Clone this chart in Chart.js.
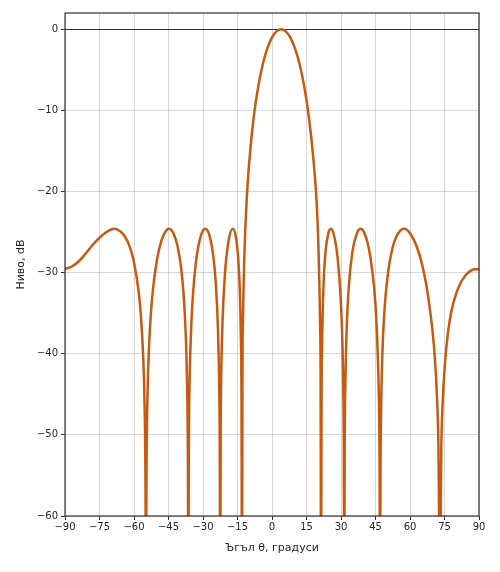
<!DOCTYPE html>
<html>
<head>
<meta charset="utf-8">
<script src="https://cdn.jsdelivr.net/npm/chart.js@4"></script>
<style>
html,body{margin:0;padding:0;background:#ffffff;}
canvas{display:block;}
</style>
</head>
<body>
<canvas id="c" width="500" height="572"></canvas>
<script>
// Angle θ (degrees) and level (dB)
const angles = [
  -90,-87,-84,-81,-78,-75,-72,-68.6,-66,-64.5,-63,-61.5,-60,-58,-57,-56,-55.5,-55.0,-54.8,-54.6,-54,-53.5,-53,-52,-50,-48,-46,-44.8,-43,-41,-39.5,-38.5,-37.5,-37,-36.57,-36.37,-36.17,-35.8,-35.3,-34.5,-33,-31,-29,-27,-25.5,-24.5,-23.5,-23,-22.73,-22.53,-22.33,-22,-21.5,-20.5,-19,-17.1,-15.5,-14.5,-14,-13.5,-13.25,-13.05,-12.85,-12.6,-12,-11,-10,-8,-6,-4,-2,0,2,4,6,8,10,12,14,16,18,19.5,20.3,20.9,21.13,21.33,21.53,21.8,22.4,23.3,24.5,25.6,27,28.5,29.8,30.5,30.9,31.21,31.41,31.61,31.9,32.4,33.3,35,37,38.5,40,42,43.5,45,46,46.5,46.77,46.97,47.17,47.5,48,49,50.5,52,54,57.4,60,63,65,67,69,70.5,71.7,72.4,73.0,73.6,74.2,75.2,76.6,78,80,82,84,86,88,90
];
const levels = [
  -29.55,-29.25,-28.6,-27.65,-26.6,-25.7,-25.0,-24.6,-24.9,-25.33,-26.05,-27.1,-28.73,-32.31,-35.32,-40.39,-45.0,-55.8,-70,-55.8,-43.62,-39.39,-36.57,-32.76,-28.38,-26.0,-24.8,-24.6,-25.07,-26.84,-29.44,-32.42,-37.65,-42.8,-52.8,-70,-52.2,-43.06,-38.04,-33.25,-28.52,-25.53,-24.6,-25.63,-28.04,-31.07,-36.91,-43.22,-50.6,-70,-50.0,-41.57,-35.93,-30.29,-26.28,-24.6,-25.97,-29.05,-32.16,-38.54,-45.6,-70,-42.5,-35.41,-27.75,-21.0,-16.71,-10.96,-7.08,-4.31,-2.34,-1.01,-0.24,0,-0.26,-1.04,-2.37,-4.32,-7.02,-10.76,-16.0,-21.8,-28.0,-36.0,-42.7,-70,-46.0,-38.6,-31.6,-27.4,-25.16,-24.6,-25.45,-28.09,-32.81,-37.63,-42.55,-50.7,-70,-51.3,-43.56,-37.42,-32.06,-27.35,-25.1,-24.6,-25.03,-26.87,-29.56,-34.01,-40.29,-45.99,-53.4,-70,-54.3,-45.8,-39.86,-34.21,-29.89,-27.45,-25.62,-24.6,-25.14,-26.84,-28.71,-31.37,-35.27,-39.4,-45.1,-52.1,-70,-51.9,-46.1,-41.2,-37.2,-34.76,-32.65,-31.28,-30.38,-29.85,-29.6,-29.6
];
const xTicks = [-90,-75,-60,-45,-30,-15,0,15,30,45,60,75,90];
const yTicks = [-60,-50,-40,-30,-20,-10,0];
const xTitle = 'Ъгъл θ, градуси';
const yTitle = 'Ниво, dB';

const fmt = v => (v < 0 ? '\u2212' + Math.abs(v) : String(v));
const points = angles.map((a, i) => ({x: a, y: levels[i]}));

const GRID = 'rgba(176,176,176,0.5)';
const INK = '#262626';

const framePlugin = {
  id: 'frame',
  afterDatasetsDraw(chart) {
    const {ctx, chartArea: a} = chart;
    ctx.save();
    ctx.strokeStyle = '#333333';
    ctx.lineWidth = 1.2;
    ctx.strokeRect(a.left, a.top, a.right - a.left, a.bottom - a.top);
    ctx.restore();
  }
};

new Chart(document.getElementById('c'), {
  type: 'line',
  data: {
    datasets: [{
      data: points,
      borderColor: '#c55a11',
      borderWidth: 2.5,
      pointRadius: 0,
      fill: false,
      cubicInterpolationMode: 'monotone'
    }]
  },
  options: {
    responsive: false,
    animation: false,
    devicePixelRatio: 1,
    layout: {padding: {left: 0, right: 21, top: 13, bottom: 0}},
    plugins: {legend: {display: false}, tooltip: {enabled: false}},
    scales: {
      x: {
        type: 'linear', min: -90, max: 90,
        afterBuildTicks: s => { s.ticks = xTicks.map(v => ({value: v})); },
        afterFit: s => { s.height = 56; },
        ticks: {callback: v => fmt(v), font: {family: 'DejaVu Sans', size: 10}, color: INK, padding: 1, maxRotation: 0, autoSkip: false},
        grid: {color: GRID, lineWidth: 1, tickLength: 4, tickColor: '#333333', tickWidth: 1, drawTicks: true},
        border: {display: false},
        title: {display: true, text: xTitle, font: {family: 'DejaVu Sans', size: 11}, color: INK, padding: {top: 0, bottom: 17}}
      },
      y: {
        type: 'linear', min: -60, max: 2,
        afterBuildTicks: s => { s.ticks = yTicks.map(v => ({value: v})); },
        afterFit: s => { s.width = 65; },
        ticks: {callback: v => fmt(v), font: {family: 'DejaVu Sans', size: 10}, color: INK, padding: 3, autoSkip: false},
        grid: {
          color: c => (c.tick && c.tick.value === 0 ? '#333333' : GRID),
          lineWidth: 1, tickLength: 4, tickColor: '#333333', tickWidth: 1, drawTicks: true
        },
        border: {display: false},
        title: {display: true, text: yTitle, font: {family: 'DejaVu Sans', size: 11}, color: INK, padding: {top: 15, bottom: 0}}
      }
    }
  },
  plugins: [framePlugin]
});
</script>
</body>
</html>
